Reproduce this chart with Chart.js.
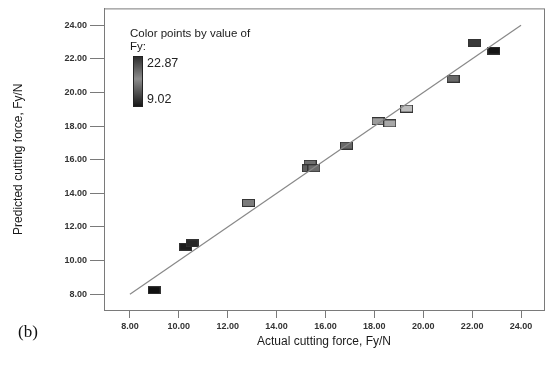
<!DOCTYPE html>
<html lang="en">
<head>
  <meta charset="UTF-8">
  <title>Predicted vs Actual cutting force</title>
  <script src="https://cdn.jsdelivr.net/npm/chart.js"></script>
  <style>
    body {
      margin: 0;
      background: #fff;
      font-family: 'Liberation Sans', Arial, sans-serif;
    }
    .wrap {
      position: relative;
      width: 551px;
      height: 380px;
    }
    .tag {
      position: absolute;
      left: 18px;
      top: 322px;
      font-family: 'Liberation Serif', 'Times New Roman', serif;
      font-size: 17px;
      color: #111;
    }
  </style>
</head>
<body>
  <div class="wrap">
    <canvas id="fyChart" width="551" height="380"></canvas>
    <div class="tag">(b)</div>
  </div>

  <script>
    // actual vs predicted Fy (N)
    const actualFy    = [8.99, 10.28, 10.54, 12.85, 15.37, 15.30, 15.53, 16.86, 18.15, 18.63, 19.32, 21.22, 22.10, 22.89];
    const predictedFy = [8.24, 10.82, 11.02, 13.43, 15.76, 15.49, 15.49, 16.84, 18.29, 18.16, 19.04, 20.82, 22.96, 22.49];
    // grey shade of each point (colour by value of Fy)
    const pointColors = ['#111', '#1c1c1c', '#262626', '#7c7c7c', '#6e6e6e', '#5e5e5e', '#6a6a6a',
                         '#686868', '#9c9c9c', '#a8a8a8', '#bdbdbd', '#6a6a6a', '#3a3a3a', '#151515'];
    const tickValues = [8, 10, 12, 14, 16, 18, 20, 22, 24];
    const fitLine = [8, 24];
    const legendMax = '22.87';
    const legendMin = '9.02';

    // small rectangle markers
    function makeMarker(color) {
      const c = document.createElement('canvas');
      c.width = 13; c.height = 8;
      const g = c.getContext('2d');
      g.fillStyle = color;
      g.fillRect(0, 0, 13, 8);
      g.strokeStyle = '#333';
      g.lineWidth = 1;
      g.strokeRect(0.5, 0.5, 12, 7);
      return c;
    }

    const frame = {
      id: 'frame',
      afterDraw(chart) {
        const { ctx, chartArea: a } = chart;
        ctx.save();
        ctx.strokeStyle = '#7a7a7a';
        ctx.lineWidth = 1;
        ctx.strokeRect(a.left + 0.5, a.top + 0.5, a.right - a.left, a.bottom - a.top);

        // colour key
        ctx.fillStyle = '#1a1a1a';
        ctx.font = '11.5px "Liberation Sans", Arial';
        ctx.textBaseline = 'middle';
        ctx.fillText('Color points by value of', 130, 34);
        ctx.fillText('Fy:', 130, 47);
        const grad = ctx.createLinearGradient(0, 56, 0, 107);
        grad.addColorStop(0, '#2a2a2a');
        grad.addColorStop(0.45, '#8c8c8c');
        grad.addColorStop(1, '#141414');
        ctx.fillStyle = grad;
        ctx.fillRect(133, 56, 10, 51);
        ctx.strokeStyle = '#222';
        ctx.strokeRect(133.5, 56.5, 9, 50);
        ctx.fillStyle = '#222';
        ctx.font = '12.5px "Liberation Sans", Arial';
        ctx.fillText(legendMax, 147, 64);
        ctx.fillText(legendMin, 147, 100);
        ctx.restore();
      }
    };

    const tickFont = { family: '"Liberation Sans", Arial', size: 9, weight: 'bold' };

    new Chart(document.getElementById('fyChart'), {
      type: 'scatter',
      data: {
        datasets: [
          {
            type: 'line',
            data: fitLine.map(v => ({ x: v, y: v })),
            borderColor: '#888',
            borderWidth: 1.2,
            pointRadius: 0
          },
          {
            data: actualFy.map((v, i) => ({ x: v, y: predictedFy[i] })),
            pointStyle: pointColors.map(makeMarker),
            pointRadius: 6
          }
        ]
      },
      options: {
        responsive: false,
        animation: false,
        layout: { padding: { left: 0, right: 5, top: 5, bottom: 0 } },
        plugins: { legend: { display: false }, tooltip: { enabled: false } },
        scales: {
          x: {
            type: 'linear',
            min: 6.94,
            max: 24.94,
            afterBuildTicks: s => { s.ticks = tickValues.map(v => ({ value: v })); },
            afterFit: s => { s.height = 70; },
            grid: { drawOnChartArea: false, tickLength: 8, color: '#7a7a7a' },
            border: { color: '#7a7a7a' },
            ticks: { font: tickFont, color: '#333', padding: 3, maxRotation: 0, callback: v => v.toFixed(2) },
            title: {
              display: true,
              text: 'Actual cutting force, Fy/N',
              font: { family: '"Liberation Sans", Arial', size: 12 },
              color: '#1a1a1a',
              padding: { top: 0, bottom: 31 }
            }
          },
          y: {
            type: 'linear',
            min: 7.06,
            max: 25.0,
            afterBuildTicks: s => { s.ticks = tickValues.map(v => ({ value: v })); },
            afterFit: s => { s.width = 104; },
            grid: { drawOnChartArea: false, tickLength: 14, color: '#7a7a7a' },
            border: { color: '#7a7a7a' },
            ticks: { font: tickFont, color: '#333', padding: 3, callback: v => v.toFixed(2) },
            title: {
              display: true,
              text: 'Predicted cutting force, Fy/N',
              font: { family: '"Liberation Sans", Arial', size: 12 },
              color: '#1a1a1a',
              padding: { top: 11, bottom: 0 }
            }
          }
        }
      },
      plugins: [frame]
    });
  </script>
</body>
</html>
